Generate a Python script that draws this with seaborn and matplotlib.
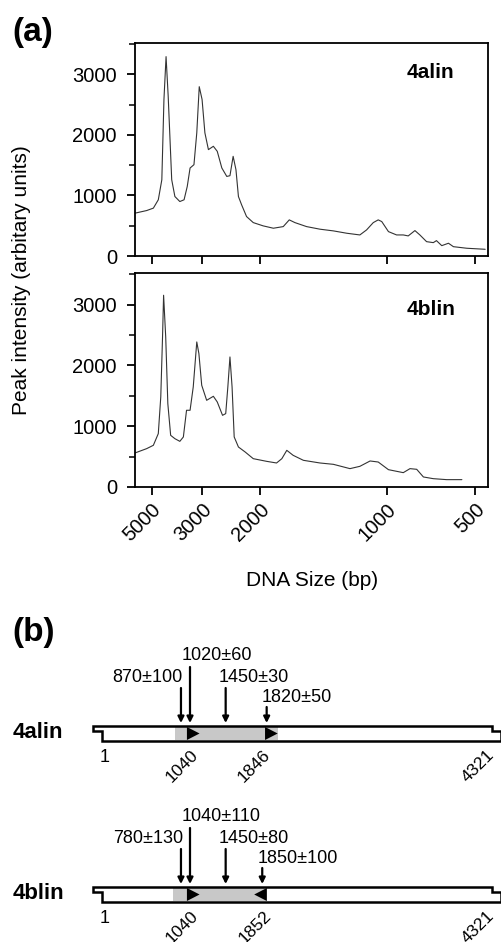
import numpy as np
import pandas as pd
import seaborn as sns
import matplotlib.pyplot as plt
from matplotlib.patches import Polygon
from matplotlib.ticker import MultipleLocator

# ---- panel (a): electropherograms, x = migration position (0-100 across the window)
mig_a = [0, 3.3, 5.2, 6.6, 7.6, 8.2, 8.8, 9.4, 10.4, 11.3, 12.7, 13.9, 14.8, 15.6, 16.7,
         17.5, 18.2, 19.0, 19.8, 20.8, 22.2, 23.3, 24.6, 26.0, 26.9, 27.8, 28.6, 29.3,
         30.2, 31.6, 33.5, 36.3, 39.2, 42.0, 43.7, 45.3, 48.6, 52.4, 56.2, 60.0, 63.7,
         65.6, 67.5, 68.9, 69.9, 71.8, 74.1, 76.0, 77.4, 79.3, 80.7, 82.6, 84.5, 85.4,
         86.9, 88.8, 90.2, 94.0, 99.2]
int_a = [708, 751, 791, 929, 1260, 2587, 3295, 2642, 1260, 983, 900, 929, 1149, 1454, 1509,
         2035, 2798, 2587, 2035, 1758, 1813, 1730, 1454, 1315, 1327, 1647, 1426, 983,
         846, 652, 552, 498, 459, 486, 597, 552, 486, 443, 415, 376, 348,
         431, 552, 597, 569, 403, 348, 348, 332, 420, 348, 237, 221, 254,
         171, 211, 154, 128, 111]

mig_b = [0, 3.3, 5.2, 6.6, 7.3, 7.8, 8.1, 8.7, 9.3, 10.1, 11.3, 12.7, 13.7, 14.6, 15.6,
         16.5, 17.5, 18.1, 18.9, 20.3, 22.2, 23.3, 24.8, 25.7, 26.3, 26.9, 27.5, 28.1,
         29.3, 31.2, 33.5, 37.3, 40.1, 41.6, 43.0, 44.8, 47.7, 52.4, 56.2, 60.9, 63.7,
         66.6, 68.9, 71.8, 76.0, 77.9, 79.8, 81.7, 84.5, 88.3, 92.6]
int_b = [560, 631, 686, 878, 1481, 2468, 3154, 2468, 1371, 850, 795, 751, 823, 1262, 1262,
         1646, 2386, 2194, 1673, 1426, 1492, 1399, 1179, 1207, 1646, 2139, 1646, 823,
         658, 576, 466, 422, 395, 466, 603, 521, 439, 395, 373, 302, 340,
         428, 411, 285, 236, 302, 291, 165, 137, 121, 121]

size_labels = ['5000', '3000', '2000', '1000', '500']
size_pos = [4.7, 19.0, 35.4, 71.3, 96.3]
sample_names = ['4alin', '4blin']

# ---- panel (b): construct maps (bp)
plasmid_len = 4321
overhang = 100
map_ticks_a = [1040, 1846]
map_ticks_b = [1040, 1852]
cut_labels_a = ['870\u00b1100', '1020\u00b160', '1450\u00b130', '1820\u00b150']
cut_labels_b = ['780\u00b1130', '1040\u00b1110', '1450\u00b180', '1850\u00b1100']
cut_pos_a = [879, 979, 1374, 1828]
cut_pos_b = [879, 979, 1374, 1779]
shade_a = [812, 1953]
shade_b = [790, 1828]
tri_a = [(945, 1), (1810, 1)]
tri_b = [(945, 1), (1830, -1)]

sns.set_style('ticks')
plt.rcParams['font.family'] = ['Liberation Sans', 'DejaVu Sans']
plt.rcParams['axes.linewidth'] = 1.3
plt.rcParams['text.color'] = 'black'
plt.rcParams['xtick.color'] = 'black'
plt.rcParams['ytick.color'] = 'black'

fig = plt.figure(figsize=(5.01, 9.42), dpi=100)
W, H = 501, 942

def px_axes(l, t, r, b):
    return fig.add_axes([l / W, 1 - b / H, (r - l) / W, (b - t) / H])

ax1 = px_axes(135, 43, 488, 256)
ax2 = px_axes(135, 273, 488, 487)

traces = [pd.DataFrame({'mig': mig_a, 'intensity': int_a}),
          pd.DataFrame({'mig': mig_b, 'intensity': int_b})]
for ax, df, name in zip([ax1, ax2], traces, sample_names):
    sns.lineplot(data=df, x='mig', y='intensity', ax=ax, color='#333333', lw=0.8)
    ax.set_xlim(0, 100)
    ax.set_ylim(0, 3520)
    ax.set_yticks([0, 1000, 2000, 3000])
    ax.yaxis.set_minor_locator(MultipleLocator(500))
    ax.set_xticks(size_pos)
    ax.tick_params(axis='both', which='major', direction='out', length=6, width=1.3,
                   labelsize=14.5, colors='black')
    ax.tick_params(axis='y', which='major', pad=7)
    ax.tick_params(axis='y', which='minor', direction='out', length=4, width=1.1)
    ax.set_xlabel('')
    ax.set_ylabel('')
    for s in ax.spines.values():
        s.set_visible(True)
        s.set_color('black')
    ax.text(0.77, 0.86 if ax is ax1 else 0.83, name, transform=ax.transAxes,
            fontsize=15, fontweight='bold', va='center', ha='left')

ax1.set_xticklabels([])
ax2.set_xticklabels(size_labels, rotation=45, ha='right', va='top', rotation_mode='anchor')

fig.text(22 / W, 1 - 280 / H, 'Peak intensity (arbitary units)', rotation=90,
         fontsize=15, ha='center', va='center')
fig.text(312 / W, 1 - 581 / H, 'DNA Size (bp)', fontsize=15, ha='center', va='center')
fig.text(12 / W, 1 - 33 / H, '(a)', fontsize=24, fontweight='bold', va='center')
fig.text(12 / W, 1 - 633 / H, '(b)', fontsize=24, fontweight='bold', va='center')

# ---- panel (b) axes in bp (x) and pixel rows (y)
axb = fig.add_axes([0, 0, 1, 342 / H])
axb.set_xlim(-1125, 4423)
axb.set_ylim(942, 600)
axb.axis('off')
axb.patch.set_alpha(0)

def draw_map(top, name, ticks, labels, cuts, shade, tris):
    bot = top + 15
    notch = top + 5
    outline = [(1 - overhang, top), (plasmid_len, top), (plasmid_len, notch),
               (plasmid_len + overhang, notch), (plasmid_len + overhang, bot),
               (1, bot), (1, notch), (1 - overhang, notch)]
    axb.add_patch(Polygon(outline, closed=True, fc='white', ec='none', zorder=1))
    axb.fill_between(shade, top + 1, bot - 1, color='#c8c8c8', lw=0, zorder=2)
    for start, d in tris:
        tw = 140
        pts = [(start, top + 1), (start, bot - 1), (start + d * tw, (top + bot) / 2)]
        axb.add_patch(Polygon(pts, closed=True, fc='black', ec='none', zorder=3))
    axb.add_patch(Polygon(outline, closed=True, fc='none', ec='black', lw=1.8, zorder=4))

    starts = [top - 38, top - 59, top - 38, top - 19]
    label_y = [top - 49, top - 71, top - 49, top - 29]
    label_dx = [22, -90, -75, -55]
    for i, (x, txt) in enumerate(zip(cuts, labels)):
        axb.annotate('', xy=(x, top - 3), xytext=(x, starts[i]),
                     arrowprops=dict(arrowstyle='-|>', color='black', lw=1.6,
                                     mutation_scale=9, shrinkA=0, shrinkB=0))
        axb.text(x + label_dx[i], label_y[i], txt, fontsize=13,
                 ha='right' if i == 0 else 'left', va='center')

    axb.text(-981, top + 6, name, fontsize=16, fontweight='bold', va='center', ha='left')
    axb.text(30, top + 31, '1', fontsize=13, ha='center', va='center')
    for t in ticks + [plasmid_len]:
        axb.text(t - 60, top + 21, str(t), fontsize=12.5, rotation=45, ha='right', va='top',
                 rotation_mode='anchor')

draw_map(726, sample_names[0], map_ticks_a, cut_labels_a, cut_pos_a, shade_a, tri_a)
draw_map(887, sample_names[1], map_ticks_b, cut_labels_b, cut_pos_b, shade_b, tri_b)

fig.savefig('out.png', dpi=100)
